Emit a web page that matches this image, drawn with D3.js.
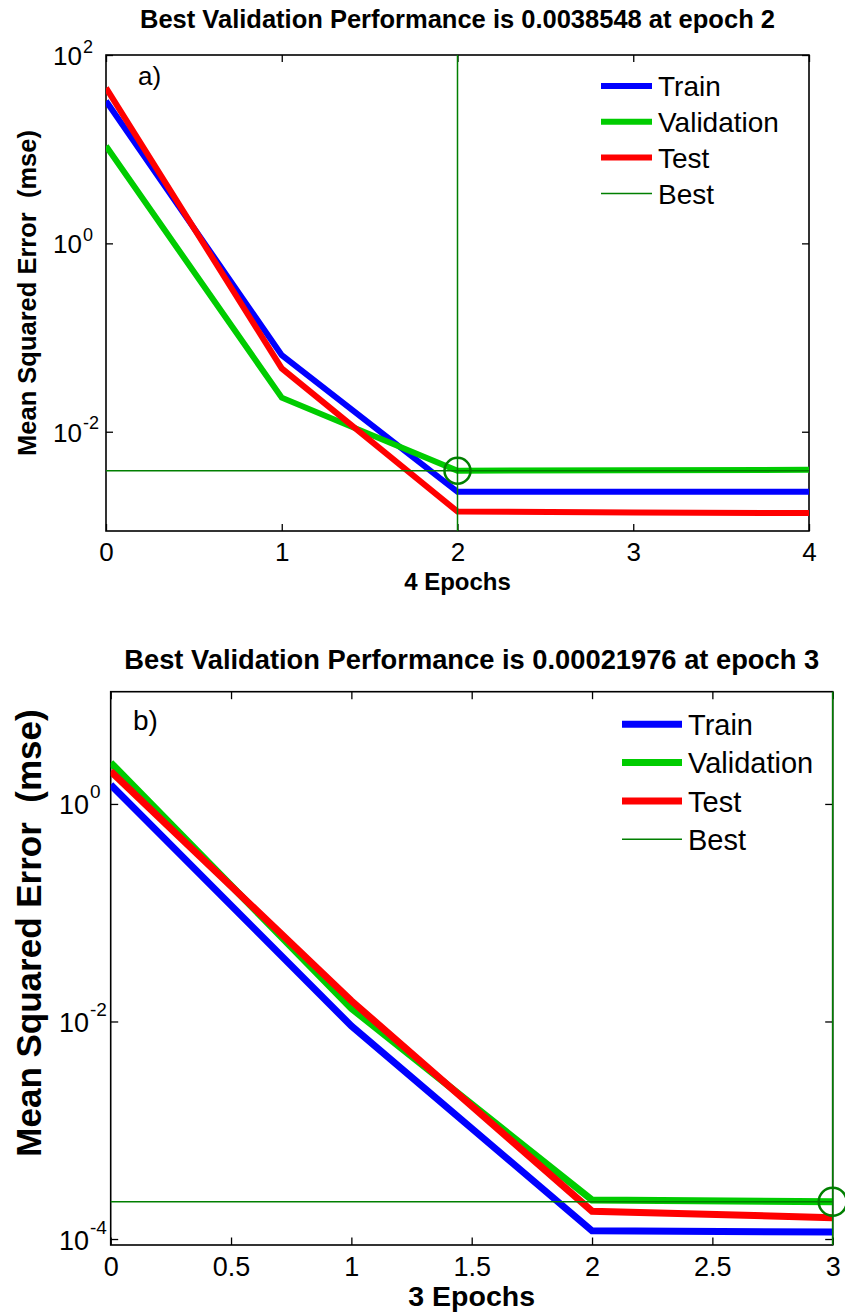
<!DOCTYPE html>
<html><head><meta charset="utf-8">
<script src="https://cdn.jsdelivr.net/npm/d3@7"></script>
<style>
body{margin:0;background:#fff}
svg{display:block}
text{font-family:"Liberation Sans",Arial,Helvetica,sans-serif;fill:#000;white-space:pre}
</style>
</head><body>
<svg id="c" width="845" height="1315"></svg>
<script>
// ---------- Panel a) data ----------
const epochsA = [0, 1, 2, 3, 4];
const trainA  = [32.5, 0.065, 0.0023, 0.0023, 0.0023];
const validA  = [10.8, 0.023, 0.0038548, 0.0039, 0.00394];
const testA   = [44.7, 0.047, 0.00142, 0.00139, 0.00137];
const xTicksA = [0, 1, 2, 3, 4];
const xTickLabelsA = ["0", "1", "2", "3", "4"];
const yTicksA = [1e-2, 1e0, 1e2];
const yTickExpA = ["-2", "0", "2"];
const bestEpochA = 2;
const bestValA = 0.0038548;
const titleA = "Best Validation Performance is 0.0038548 at epoch 2";
const xLabelA = "4 Epochs";
const panelLabelA = "a)";

// ---------- Panel b) data ----------
const epochsB = [0, 1, 2, 3];
const trainB  = [1.5, 0.0091, 0.000119, 0.000116];
const validB  = [2.4, 0.0132, 0.000228, 0.00021976];
const testB   = [2.0, 0.0155, 0.000180, 0.000157];
const xTicksB = [0, 0.5, 1, 1.5, 2, 2.5, 3];
const xTickLabelsB = ["0", "0.5", "1", "1.5", "2", "2.5", "3"];
const yTicksB = [1e-4, 1e-2, 1e0];
const yTickExpB = ["-4", "-2", "0"];
const bestEpochB = 3;
const bestValB = 0.00021976;
const titleB = "Best Validation Performance is 0.00021976 at epoch 3";
const xLabelB = "3 Epochs";
const panelLabelB = "b)";

const seriesNames = ["Train", "Validation", "Test", "Best"];
const seriesColors = ["#0000ff", "#00cc00", "#ff0000", "#007f00"];
const yLabel = "Mean Squared Error  (mse)";

const svg = d3.select("#c");

function drawPanel(cfg) {
  const g = svg.append("g");
  const x = d3.scaleLinear().domain(cfg.xDomain).range([cfg.L, cfg.R]);
  const y = d3.scaleLog().domain(cfg.yDomain).range([cfg.B, cfg.T]);
  const clipId = "clip" + cfg.id;
  g.append("clipPath").attr("id", clipId).append("rect")
    .attr("x", cfg.L).attr("y", cfg.T).attr("width", cfg.R - cfg.L).attr("height", cfg.B - cfg.T);

  const tk = cfg.tick;
  const axB = g.append("g").attr("transform", `translate(0,${cfg.B})`)
    .call(d3.axisBottom(x).tickValues(cfg.xTicks).tickSizeInner(-tk).tickSizeOuter(0)
      .tickPadding(0).tickFormat((d, i) => cfg.xTickLabels[i]));
  axB.select(".domain").remove();
  axB.selectAll("line").attr("stroke", "#000").attr("stroke-width", 1.3);
  axB.selectAll("text").attr("font-family", null).style("font-size", cfg.tickFont + "px")
    .attr("y", cfg.xTickBaseline - cfg.B).attr("dy", null);

  const axT = g.append("g").attr("transform", `translate(0,${cfg.T})`)
    .call(d3.axisTop(x).tickValues(cfg.xTicks).tickSizeInner(-tk).tickSizeOuter(0).tickFormat(""));
  axT.select(".domain").remove();
  axT.selectAll("line").attr("stroke", "#000").attr("stroke-width", 1.3);

  const axL = g.append("g").attr("transform", `translate(${cfg.L},0)`)
    .call(d3.axisLeft(y).tickValues(cfg.yTicks).tickSizeInner(-tk).tickSizeOuter(0).tickFormat(""));
  axL.select(".domain").remove();
  axL.selectAll("line").attr("stroke", "#000").attr("stroke-width", 1.3);
  axL.selectAll(".tick").each(function (d, i) {
    const t = d3.select(this);
    t.append("text").attr("x", cfg.yLabBaseEnd - cfg.L).attr("y", cfg.tickFont * 0.37)
      .attr("text-anchor", "end").attr("fill", "#000").style("font-size", cfg.tickFont + "px").text("10");
    t.append("text").attr("x", cfg.yLabBaseEnd - cfg.L + 1).attr("y", cfg.supDy)
      .attr("text-anchor", "start").attr("fill", "#000").style("font-size", cfg.supFont + "px").text(cfg.yExp[i]);
  });

  const axR = g.append("g").attr("transform", `translate(${cfg.R},0)`)
    .call(d3.axisRight(y).tickValues(cfg.yTicks).tickSizeInner(-tk).tickSizeOuter(0).tickFormat(""));
  axR.select(".domain").remove();
  axR.selectAll("line").attr("stroke", "#000").attr("stroke-width", 1.3);

  g.append("rect").attr("x", cfg.L).attr("y", cfg.T).attr("width", cfg.R - cfg.L).attr("height", cfg.B - cfg.T)
    .attr("fill", "none").attr("stroke", "#000").attr("stroke-width", 1.6);

  const line = d3.line().x((d, i) => x(cfg.epochs[i])).y(d => y(d));
  const pg = g.append("g").attr("clip-path", `url(#${clipId})`);
  [cfg.train, cfg.valid, cfg.test].forEach((s, k) => {
    pg.append("path").attr("d", line(s)).attr("fill", "none")
      .attr("stroke", seriesColors[k]).attr("stroke-width", cfg.lw).attr("stroke-linejoin", "miter");
  });

  g.append("line").attr("x1", cfg.L).attr("x2", cfg.R).attr("y1", y(cfg.bestVal)).attr("y2", y(cfg.bestVal))
    .attr("stroke", seriesColors[3]).attr("stroke-width", 1.5);
  g.append("line").attr("x1", x(cfg.bestEpoch)).attr("x2", x(cfg.bestEpoch)).attr("y1", cfg.T).attr("y2", cfg.B)
    .attr("stroke", seriesColors[3]).attr("stroke-width", 1.5);
  g.append("circle").attr("cx", x(cfg.bestEpoch)).attr("cy", y(cfg.bestVal)).attr("r", cfg.circR)
    .attr("fill", "none").attr("stroke", seriesColors[3]).attr("stroke-width", 2.5);

  g.append("text").attr("x", (cfg.L + cfg.R) / 2).attr("y", cfg.titleY).attr("text-anchor", "middle")
    .style("font-size", cfg.titleFont + "px").style("font-weight", "bold").text(cfg.title);
  g.append("text").attr("x", (cfg.L + cfg.R) / 2).attr("y", cfg.xLabelY).attr("text-anchor", "middle")
    .style("font-size", cfg.xLabelFont + "px").style("font-weight", "bold").text(cfg.xLabel);
  g.append("text").attr("transform", `translate(${cfg.yLabelX},${cfg.yLabelCY}) rotate(-90)`)
    .attr("text-anchor", "middle").style("font-size", cfg.yLabelFont + "px").style("font-weight", "bold").text(yLabel);
  g.append("text").attr("x", cfg.panelX).attr("y", cfg.panelY)
    .style("font-size", cfg.panelFont + "px").text(cfg.panelLabel);

  const lg = g.append("g");
  seriesNames.forEach((n, k) => {
    const yy = cfg.legY0 + k * cfg.legDy;
    lg.append("line").attr("x1", cfg.legX0).attr("x2", cfg.legX1).attr("y1", yy).attr("y2", yy)
      .attr("stroke", seriesColors[k]).attr("stroke-width", k === 3 ? 1.5 : cfg.lw);
    lg.append("text").attr("x", cfg.legX1 + 6).attr("y", yy + cfg.legFont * 0.37)
      .style("font-size", cfg.legFont + "px").text(n);
  });
}

drawPanel({
  id: "A", L: 106, R: 809, T: 55, B: 531,
  xDomain: [0, 4], yDomain: [Math.pow(10, -3.054), 100],
  epochs: epochsA, train: trainA, valid: validA, test: testA,
  xTicks: xTicksA, xTickLabels: xTickLabelsA, yTicks: yTicksA, yExp: yTickExpA,
  bestEpoch: bestEpochA, bestVal: bestValA, title: titleA, xLabel: xLabelA, panelLabel: panelLabelA,
  tick: 7, lw: 6, circR: 13,
  tickFont: 26, supFont: 18, supDy: -3, yLabBaseEnd: 82, xTickBaseline: 561,
  titleFont: 25.5, titleY: 28, xLabelFont: 24, xLabelY: 590,
  yLabelFont: 25.5, yLabelX: 36, yLabelCY: 293,
  panelFont: 26, panelX: 138, panelY: 85,
  legX0: 601, legX1: 652, legY0: 86, legDy: 35.8, legFont: 28
});

drawPanel({
  id: "B", L: 110.7, R: 832.7, T: 691.7, B: 1245,
  xDomain: [0, 3], yDomain: [Math.pow(10, -4.055), Math.pow(10, 1.032)],
  epochs: epochsB, train: trainB, valid: validB, test: testB,
  xTicks: xTicksB, xTickLabels: xTickLabelsB, yTicks: yTicksB, yExp: yTickExpB,
  bestEpoch: bestEpochB, bestVal: bestValB, title: titleB, xLabel: xLabelB, panelLabel: panelLabelB,
  tick: 7.5, lw: 7, circR: 14,
  tickFont: 27, supFont: 19, supDy: -6, yLabBaseEnd: 89, xTickBaseline: 1276,
  titleFont: 27.3, titleY: 669, xLabelFont: 28.5, xLabelY: 1306,
  yLabelFont: 35, yLabelX: 41, yLabelCY: 933,
  panelFont: 28, panelX: 133, panelY: 730,
  legX0: 622, legX1: 682, legY0: 724.3, legDy: 38.3, legFont: 29
});
</script>
</body></html>
